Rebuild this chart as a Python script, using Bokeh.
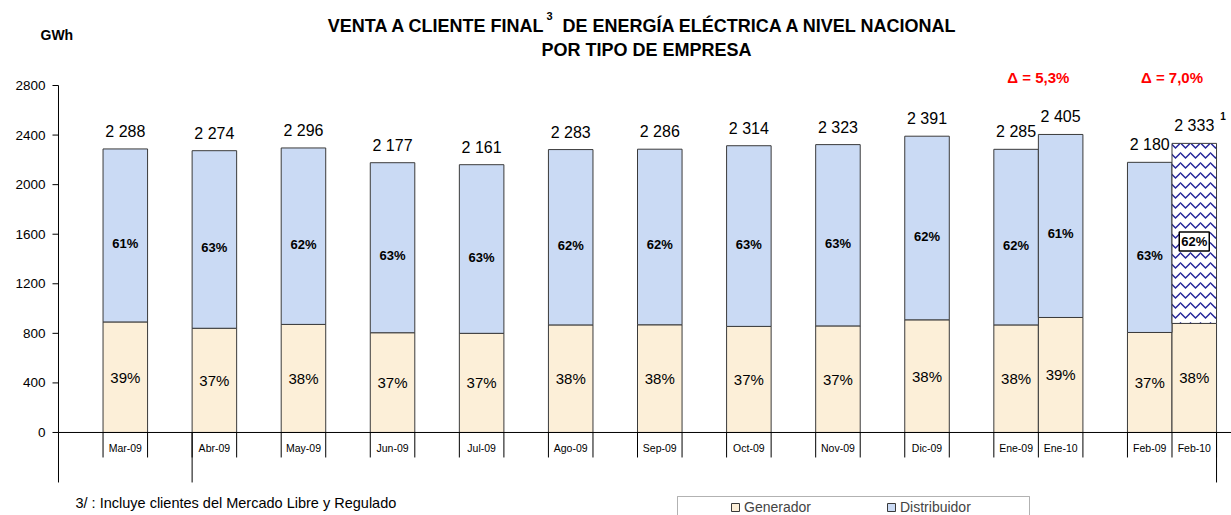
import math
from bokeh.plotting import figure
from bokeh.models import (ColumnDataSource, Range1d, Label, Legend, LegendItem,
                          BoxAnnotation, CDSView, IndexFilter)
from bokeh.core.properties import value
from bokeh.embed import file_html
from bokeh.resources import INLINE

# ---------------- data ----------------
months = ["Mar-09", "Abr-09", "May-09", "Jun-09", "Jul-09", "Ago-09", "Sep-09",
          "Oct-09", "Nov-09", "Dic-09", "Ene-09", "Ene-10", "Feb-09", "Feb-10"]
total = [2288, 2274, 2296, 2177, 2161, 2283, 2286, 2314, 2323, 2391, 2285, 2405, 2180, 2333]
generador = [892, 841, 872, 805, 800, 868, 869, 856, 860, 909, 868, 928, 807, 880]
distribuidor = [1396, 1433, 1424, 1372, 1361, 1415, 1417, 1458, 1463, 1482, 1417, 1477, 1373, 1453]
pct_generador = ["39%", "37%", "38%", "37%", "37%", "38%", "38%", "37%", "37%", "38%", "38%", "39%", "37%", "38%"]
pct_distribuidor = ["61%", "63%", "62%", "63%", "63%", "62%", "62%", "63%", "63%", "62%", "62%", "61%", "63%", "62%"]
total_labels = ["2 288", "2 274", "2 296", "2 177", "2 161", "2 283", "2 286",
                "2 314", "2 323", "2 391", "2 285", "2 405", "2 180", "2 333"]
deltas = ["\u0394 = 5,3%", "\u0394 = 7,0%"]
delta_pairs = [("Ene-09", "Ene-10"), ("Feb-09", "Feb-10")]
y_ticks = [0, 400, 800, 1200, 1600, 2000, 2400, 2800]
# category slots of the axis ("" = empty slot)
slots = ["", "Mar-09", "", "Abr-09", "", "May-09", "", "Jun-09", "", "Jul-09", "", "Ago-09",
         "", "Sep-09", "", "Oct-09", "", "Nov-09", "", "Dic-09", "", "Ene-09", "Ene-10",
         "", "Feb-09", "Feb-10"]

# ---------------- style ----------------
FONT = "Liberation Sans"
GEN_COLOR = "#FCEFD8"
DIST_COLOR = "#CADAF4"
EDGE = "#3A3A3A"
HATCH = "#25259A"
W, H = 1231, 515

xc = [slots.index(m) + 0.5 for m in months]
tops = [g + d for g, d in zip(generador, distribuidor)]
n = len(months)

src = ColumnDataSource(dict(x=xc, gen=generador, dist=distribuidor, top=tops, total=total,
                            tl=total_labels, pg=pct_generador, pd=pct_distribuidor,
                            mid_g=[g / 2 for g in generador],
                            mid_d=[g + d / 2 for g, d in zip(generador, distribuidor)]))
plain = CDSView(filter=IndexFilter(list(range(n - 1))))
last = CDSView(filter=IndexFilter([n - 1]))

p = figure(width=W, height=H, x_range=Range1d(-1.302, 26.336), y_range=Range1d(-670, 3486),
           x_axis_location=None, y_axis_location=None,
           output_backend="svg", toolbar_location=None, title=None,
           min_border_left=0, min_border_right=0, min_border_top=0, min_border_bottom=0)
p.outline_line_color = None
p.grid.visible = False
p.background_fill_color = "white"

# bars
r_gen = p.vbar(x="x", bottom=0, top="gen", width=1, source=src, fill_color=GEN_COLOR,
               line_color=EDGE, line_width=1)
r_dist = p.vbar(x="x", bottom="gen", top="top", width=1, source=src, view=plain,
                fill_color=DIST_COLOR, line_color=EDGE, line_width=1)
p.vbar(x="x", bottom="gen", top="top", width=1, source=src, view=last,
       fill_color="white", hatch_pattern="horizontal_wave", hatch_color=HATCH,
       hatch_scale=10, hatch_weight=1.5, line_color=EDGE, line_width=1)

# value axis (drawn on the data scale)
p.segment(x0=[0], y0=[y_ticks[0]], x1=[0], y1=[y_ticks[-1]], line_color="black", line_width=1)
p.ray(x=[0] * len(y_ticks), y=y_ticks, length=6, length_units="screen", angle=math.pi,
      line_color="black", line_width=1)
p.text(x=[0] * len(y_ticks), y=y_ticks, text=[str(t) for t in y_ticks], x_offset=-13,
       text_align="right", text_baseline="middle", text_font=value(FONT),
       text_font_size="13.5px", text_color="black")

# category axis
p.ray(x=[0], y=[0], length=0, angle=0, line_color="black", line_width=1)
bounds = list(range(1, len(slots) + 1))
p.ray(x=bounds, y=[0] * len(bounds), length=25, length_units="screen", angle=-math.pi / 2,
      line_color="black", line_width=1)
long_b = [0, slots.index("Abr-09"), len(slots)]
p.ray(x=long_b, y=[0] * len(long_b), length=50, length_units="screen", angle=-math.pi / 2,
      line_color="black", line_width=1)
p.text(x=xc, y=[0] * n, text=months, text_align="center", text_baseline="middle",
       y_offset=16, text_font=value(FONT), text_font_size="10.5px", text_color="black")

# labels
p.text(x="x", y="total", text="tl", source=src, text_align="center", text_baseline="bottom",
       y_offset=-9, text_font=value(FONT), text_font_size="16px", text_color="black")
p.text(x="x", y="mid_g", text="pg", source=src, text_align="center", text_baseline="middle",
       text_font=value(FONT), text_font_size="15px", text_color="black")
p.text(x="x", y="mid_d", text="pd", source=src, view=plain, text_align="center",
       text_baseline="middle", y_offset=8, text_font=value(FONT), text_font_size="13px",
       text_font_style="bold", text_color="black")
p.text(x="x", y="mid_d", text="pd", source=src, view=last, text_align="center",
       text_baseline="middle", y_offset=8, text_font=value(FONT), text_font_size="13px",
       text_font_style="bold", text_color="black", background_fill_color="white",
       border_line_color="black", border_line_width=1.5, padding=2)
p.text(x=[xc[-1]], y=[total[-1]], text=["1"], text_align="left", text_baseline="middle",
       x_offset=26, y_offset=-27, text_font=value(FONT), text_font_size="10px",
       text_font_style="bold", text_color="black")

dx = [(xc[months.index(a)] + xc[months.index(b)]) / 2 for a, b in delta_pairs]
p.text(x=dx, y=[y_ticks[-1]] * len(dx), text=deltas, text_align="center",
       text_baseline="bottom", text_font=value(FONT), text_font_size="15px",
       text_font_style="bold", text_color="#FF0000")


def lab(text, x, y, size, bold=False, align="left"):
    p.add_layout(Label(x=x, y=H - y, x_units="screen", y_units="screen", text=text,
                       text_font=FONT, text_font_size=size,
                       text_font_style="bold" if bold else "normal",
                       text_align=align, text_baseline="middle", text_color="black"))


lab("VENTA A CLIENTE FINAL", 545, 25, "18px", True, "right")
lab("3", 546, 15, "11px", True, "left")
lab("DE ENERGÍA ELÉCTRICA A NIVEL NACIONAL", 562, 25, "18px", True, "left")
lab("POR TIPO DE EMPRESA", 646, 49, "18px", True, "center")
lab("GWh", 40, 34, "14px", True, "left")
lab("3/ : Incluye clientes del Mercado Libre y Regulado", 75, 502, "14.5px", False, "left")

# legend
p.add_layout(BoxAnnotation(left=677, right=1029, top=H - 496, bottom=H - 525,
                           left_units="screen", right_units="screen", top_units="screen",
                           bottom_units="screen", fill_color="white", fill_alpha=1,
                           line_color="black", line_width=1))
legend = Legend(items=[LegendItem(label="Generador", renderers=[r_gen]),
                       LegendItem(label="Distribuidor", renderers=[r_dist])],
                orientation="horizontal", location=(730, H - 517), padding=3, margin=0,
                spacing=12, glyph_width=10, glyph_height=10, label_width=130,
                label_standoff=4, label_height=20, label_text_font=FONT,
                label_text_font_size="14px", border_line_color=None,
                background_fill_alpha=0)
p.add_layout(legend)

open("out.html", "w").write(file_html(p, INLINE))
